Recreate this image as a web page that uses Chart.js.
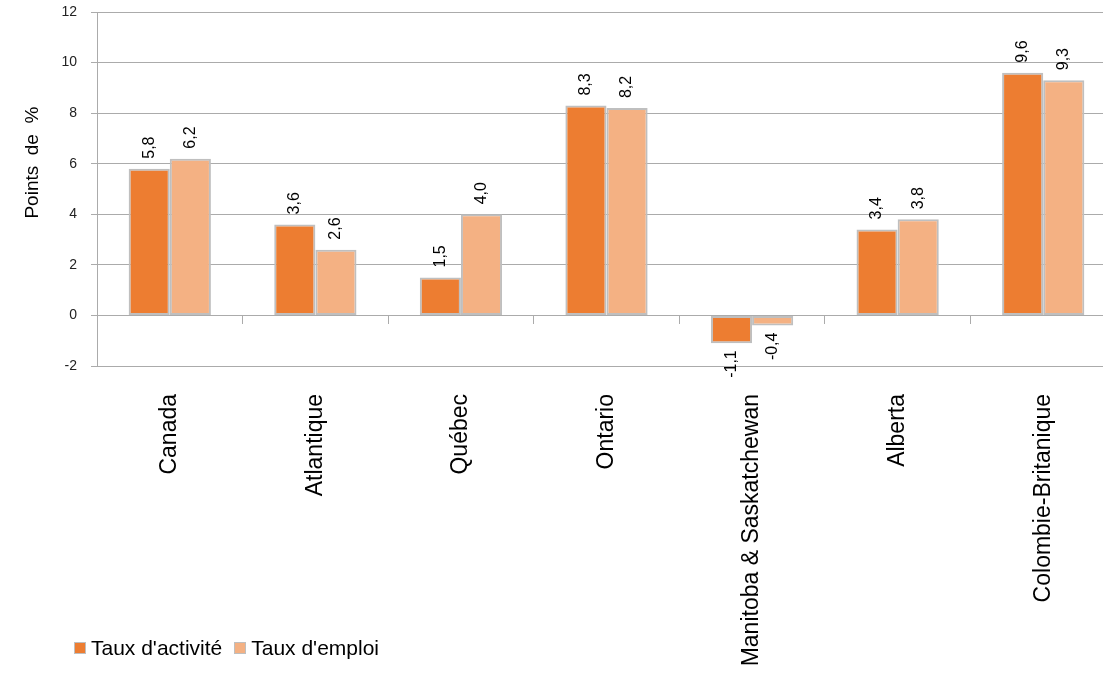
<!DOCTYPE html>
<html>
<head>
<meta charset="utf-8">
<script src="https://cdn.jsdelivr.net/npm/chart.js@4.4.0/dist/chart.umd.min.js"></script>
<style>
  body { margin: 0; overflow: hidden; background: #fff; }
  #wrap { position: absolute; left: 0; top: 0; width: 1120px; height: 681px; }
  #legend { position: absolute; left: 74px; top: 636px; font-family: "Liberation Sans", Arial, sans-serif; font-size: 21px; color: #000; white-space: nowrap; }
  #legend span.box { display: inline-block; width: 10px; height: 10px; border: 1.5px solid #bfbfbf; margin-right: 5px; vertical-align: 1px; }
  #legend span.item { margin-right: 12px; }
</style>
</head>
<body>
<div id="wrap"><canvas id="barChart"></canvas></div>
<div id="legend"></div>
<script>
const regions = ["Canada", "Atlantique", "Québec", "Ontario", "Manitoba & Saskatchewan", "Alberta", "Colombie-Britanique"];
const tauxActivite = [5.8, 3.6, 1.5, 8.3, -1.1, 3.4, 9.6];
const tauxEmploi = [6.2, 2.6, 4.0, 8.2, -0.4, 3.8, 9.3];
const seriesNames = ["Taux d'activité", "Taux d'emploi"];
const seriesColors = ["#ed7d31", "#f4b183"];

const gridColor = "#ababab";

// labels written sideways above / below each bar
const valueLabels = {
  id: "valueLabels",
  afterDatasetsDraw(chart) {
    const ctx = chart.ctx;
    ctx.save();
    ctx.font = "16px 'Liberation Sans', Arial, sans-serif";
    ctx.fillStyle = "#000";
    ctx.textBaseline = "middle";
    chart.data.datasets.forEach((ds, i) => {
      chart.getDatasetMeta(i).data.forEach((bar, j) => {
        const v = ds.data[j];
        const txt = v.toFixed(1).replace(".", ",");
        ctx.save();
        if (v >= 0) {
          ctx.translate(bar.x, bar.y - 10);
          ctx.rotate(-Math.PI / 2);
          ctx.textAlign = "left";
        } else {
          ctx.translate(bar.x, bar.y + 7);
          ctx.rotate(-Math.PI / 2);
          ctx.textAlign = "right";
        }
        ctx.fillText(txt, 0, 0);
        ctx.restore();
      });
    });
    ctx.restore();
  }
};

function noPadding(scale) {
  scale.paddingTop = 0;
  scale.paddingBottom = 0;
  scale.paddingLeft = 0;
  scale.paddingRight = 0;
}

document.addEventListener("DOMContentLoaded", () => {
  const ctx = document.getElementById("barChart").getContext("2d");
  new Chart(ctx, {
    type: "bar",
    data: {
      labels: regions,
      datasets: [
        { label: seriesNames[0], data: tauxActivite, backgroundColor: seriesColors[0] },
        { label: seriesNames[1], data: tauxEmploi, backgroundColor: seriesColors[1] }
      ]
    },
    options: {
      responsive: true,
      maintainAspectRatio: false,
      animation: false,
      layout: { padding: { top: 12, right: 4, bottom: 0, left: 0 } },
      datasets: {
        bar: {
          categoryPercentage: 0.565,
          barPercentage: 1,
          borderColor: "#bfbfbf",
          borderWidth: 2,
          borderSkipped: false
        }
      },
      plugins: {
        legend: { display: false },
        tooltip: { enabled: false }
      },
      scales: {
        x: {
          position: "bottom",
          grid: { display: false },
          border: { display: false },
          ticks: {
            autoSkip: false,
            maxRotation: 90,
            minRotation: 90,
            padding: 20,
            color: "#000",
            font: { family: "'Liberation Sans', Arial, sans-serif", size: 23 }
          },
          afterFit(scale) { scale.height = 315; noPadding(scale); }
        },
        zero: {
          type: "category",
          axis: "x",
          position: { y: 0 },
          offset: true,
          grid: { offset: true, drawOnChartArea: false, tickLength: 8, color: gridColor },
          border: { display: true, color: gridColor },
          ticks: { display: false },
          afterFit(scale) { noPadding(scale); }
        },
        y: {
          min: -2,
          max: 12,
          ticks: {
            stepSize: 2,
            padding: 14,
            color: "#222",
            font: { family: "'Liberation Sans', Arial, sans-serif", size: 14 }
          },
          grid: { color: gridColor, tickLength: 6 },
          border: { color: gridColor },
          title: {
            display: true,
            // leading spaces lift the title like in the original
            text: "          Points  de  %",
            color: "#000",
            padding: { top: 21, bottom: 0 },
            font: { family: "'Liberation Sans', Arial, sans-serif", size: 19 }
          },
          afterFit(scale) { scale.width = 97; noPadding(scale); }
        }
      }
    },
    plugins: [valueLabels]
  });

  const legend = document.getElementById("legend");
  seriesNames.forEach((name, i) => {
    const item = document.createElement("span");
    item.className = "item";
    const box = document.createElement("span");
    box.className = "box";
    box.style.background = seriesColors[i];
    item.appendChild(box);
    item.appendChild(document.createTextNode(name));
    legend.appendChild(item);
  });
});
</script>
</body>
</html>
